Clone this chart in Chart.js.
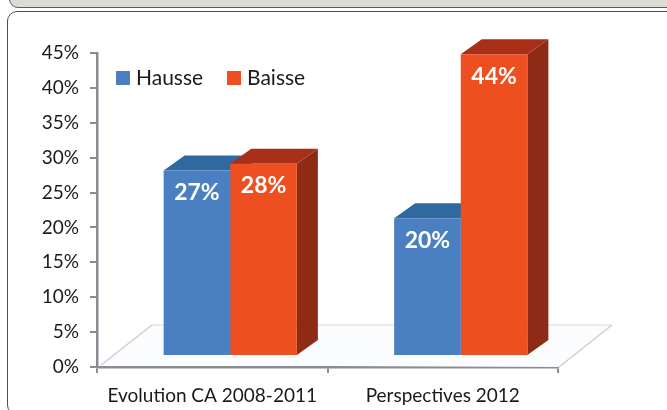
<!DOCTYPE html>
<html>
<head>
<meta charset="utf-8">
<title>Evolution CA</title>
<script src="https://cdn.jsdelivr.net/npm/chart.js@4"></script>
<style>
    html, body { margin: 0; padding: 0; background: #fff; }
    #wrap { position: relative; width: 667px; height: 410px; overflow: hidden; }
    .topBar { position: absolute; left: 9px; top: -12px; width: 680px; height: 18px; background: #dcdcd4; border: 1.5px solid #5c5c5c; border-radius: 9px; }
    .panel { position: absolute; left: 7px; top: 11px; width: 680px; height: 402px; background: #fff; border: 1.5px solid #4f4f4f; border-radius: 10px; }
    canvas { position: absolute; left: 0; top: 0; }
</style>
</head>
<body>
<div id="wrap">
    <div class="topBar"></div>
    <div class="panel"></div>
    <canvas id="chart" width="667" height="410"></canvas>
</div>
<script>
const categories = ["Evolution CA 2008-2011", "Perspectives 2012"];
const hausse = [27, 20];
const baisse = [28, 44];
const seriesNames = ["Hausse", "Baisse"];
const faceColors = ["#4a7fc2", "#ee4f20"];
const topColors = ["#2f699f", "#a82f18"];
const sideColors = ["#2f5f90", "#8e2b16"];

const depthX = 21;
const depthY = 15;
const shiftX = 18; // bars sit a bit right of the axis categories (3D look)

const fontName = "Lato, 'Open Sans', sans-serif";

// floor of the fake 3D box
const floorPlugin = {
    id: "floor",
    beforeDatasetsDraw(chart) {
        const { ctx, chartArea } = chart;
        const left = chartArea.left, right = chartArea.right, bottom = chartArea.bottom;
        ctx.save();
        ctx.beginPath();
        ctx.moveTo(left + 4, bottom - 2);
        ctx.lineTo(left + 55, bottom - 42);
        ctx.lineTo(right + 54, bottom - 42);
        ctx.lineTo(right + 1, bottom);
        ctx.closePath();
        ctx.fillStyle = "#fbfcfd";
        ctx.fill();
        ctx.lineWidth = 1;
        ctx.strokeStyle = "#e0d6d2";
        ctx.beginPath();
        ctx.moveTo(left + 55, bottom - 42);
        ctx.lineTo(right + 54, bottom - 42);
        ctx.stroke();
        ctx.strokeStyle = "#cfcfcf";
        ctx.lineWidth = 1.5;
        ctx.beginPath();
        ctx.moveTo(left + 4, bottom - 2);
        ctx.lineTo(left + 55, bottom - 42);
        ctx.moveTo(right + 1, bottom);
        ctx.lineTo(right + 54, bottom - 42);
        ctx.stroke();
        ctx.restore();
    }
};

// top and side faces, then shift the front faces
const depthPlugin = {
    id: "depth",
    beforeDatasetsDraw(chart) {
        const { ctx } = chart;
        ctx.save();
        ctx.translate(shiftX, 0);
        chart.data.datasets.forEach((ds, d) => {
            chart.getDatasetMeta(d).data.forEach((bar) => {
                const half = bar.width / 2;
                const l = bar.x - half, r = bar.x + half;
                ctx.fillStyle = sideColors[d];
                ctx.beginPath();
                ctx.moveTo(r, bar.y);
                ctx.lineTo(r + depthX, bar.y - depthY);
                ctx.lineTo(r + depthX, bar.base - depthY);
                ctx.lineTo(r, bar.base);
                ctx.closePath();
                ctx.fill();
                ctx.fillStyle = topColors[d];
                ctx.beginPath();
                ctx.moveTo(l, bar.y);
                ctx.lineTo(l + depthX, bar.y - depthY);
                ctx.lineTo(r + depthX, bar.y - depthY);
                ctx.lineTo(r, bar.y);
                ctx.closePath();
                ctx.fill();
            });
        });
    },
    afterDatasetsDraw(chart) {
        const { ctx } = chart;
        ctx.fillStyle = "#fff";
        ctx.font = "bold 23px " + fontName;
        ctx.textAlign = "center";
        ctx.textBaseline = "middle";
        chart.data.datasets.forEach((ds, d) => {
            chart.getDatasetMeta(d).data.forEach((bar, i) => {
                ctx.fillText(ds.data[i] + "%", bar.x, bar.y + 22);
            });
        });
        ctx.restore();
    }
};

// legend sits inside the plot, one row
const legendPlugin = {
    id: "rowLegend",
    afterDraw(chart) {
        const { ctx, chartArea } = chart;
        const xs = [chartArea.left + 19, chartArea.left + 130];
        const y = chartArea.top + 25;
        ctx.save();
        ctx.font = "21px " + fontName;
        ctx.textBaseline = "middle";
        ctx.textAlign = "left";
        chart.data.datasets.forEach((ds, d) => {
            ctx.fillStyle = ds.backgroundColor;
            ctx.fillRect(xs[d], y - 7, 14, 14);
            ctx.fillStyle = "#1a1a1a";
            ctx.fillText(ds.label, xs[d] + 20, y);
        });
        ctx.restore();
    }
};

new Chart(document.getElementById("chart"), {
    type: "bar",
    data: {
        labels: categories,
        datasets: [
            { label: seriesNames[0], data: hausse, backgroundColor: faceColors[0], yAxisID: "bars" },
            { label: seriesNames[1], data: baisse, backgroundColor: faceColors[1], yAxisID: "bars" }
        ]
    },
    options: {
        responsive: false,
        animation: false,
        layout: { padding: { left: 0, right: 109, top: 53, bottom: 0 } },
        datasets: { bar: { categoryPercentage: 0.578, barPercentage: 1 } },
        scales: {
            x: {
                afterFit(scale) { scale.height = 43; },
                border: { color: "#8b8b93", width: 2.5 },
                grid: { drawOnChartArea: false, tickLength: 6, color: "#8b8b93", lineWidth: 2 },
                ticks: { color: "#1a1a1a", padding: 11, maxRotation: 0, font: { family: fontName, size: 19 } }
            },
            y: {
                position: "left",
                min: 0,
                max: 45,
                afterFit(scale) { scale.width = 97; },
                border: { color: "#8b8b93", width: 2.5 },
                grid: { drawOnChartArea: false, tickLength: 7, color: "#8b8b93", lineWidth: 2 },
                ticks: {
                    stepSize: 5,
                    color: "#1a1a1a",
                    padding: 11,
                    font: { family: fontName, size: 19 },
                    callback: (v) => v + "%"
                }
            },
            // front plane of the bars, floor sits above the axis line
            bars: { display: false, min: -1.75, max: 44.2 }
        },
        plugins: {
            tooltip: { enabled: false },
            legend: { display: false }
        }
    },
    plugins: [floorPlugin, depthPlugin, legendPlugin]
});
</script>
</body>
</html>
